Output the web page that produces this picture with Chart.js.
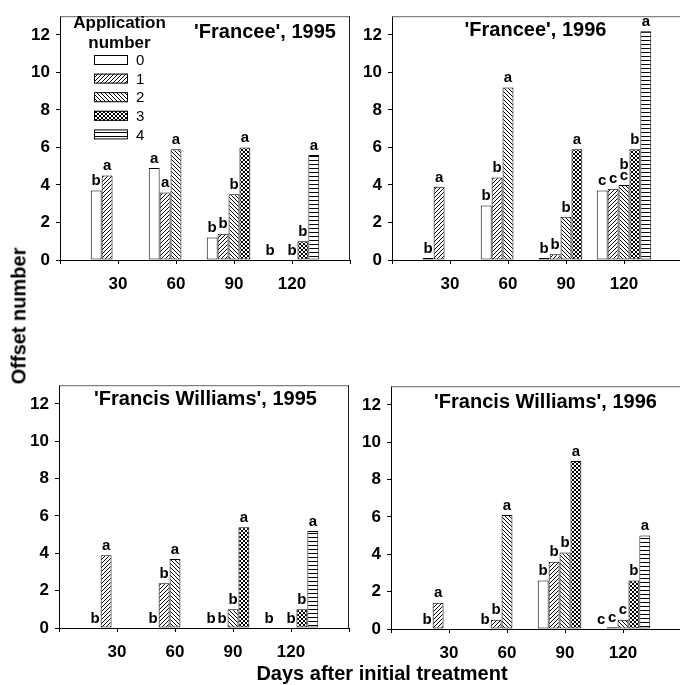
<!DOCTYPE html>
<html>
<head>
<meta charset="utf-8">
<script src="https://cdn.jsdelivr.net/npm/chart.js@4.4.1/dist/chart.umd.min.js"></script>
<style>
  body { margin: 0; background: #fff; width: 680px; height: 685px; overflow: hidden; position: relative; font-family: 'Liberation Sans', Arial, sans-serif; }
  canvas { position: absolute; }
  .axis-title { position: absolute; font-weight: bold; font-size: 20px; color: #000; white-space: nowrap; }
  #ytitle { left: 19px; top: 316px; transform: translate(-50%, -50%) rotate(-90deg); }
  #xtitle { left: 382px; top: 673px; transform: translate(-50%, -50%); }
</style>
</head>
<body>
<canvas id="c1" width="360" height="300" style="left:0px;top:0px"></canvas>
<canvas id="c2" width="360" height="300" style="left:332px;top:0px"></canvas>
<canvas id="c3" width="359" height="299" style="left:0px;top:369px"></canvas>
<canvas id="c4" width="360" height="299" style="left:331px;top:370px"></canvas>
<div class="axis-title" id="ytitle">Offset number</div>
<div class="axis-title" id="xtitle">Days after initial treatment</div>
<script>
// categorias (dias) y numero de aplicaciones
const days = ['', '30', '60', '90', '120', ''];
const appNumbers = ['0', '1', '2', '3', '4'];
const yTicks = [0, 2, 4, 6, 8, 10, 12];

// valores por serie (aplicacion 0..4) en 30, 60, 90, 120 dias
const francee1995 = [
  [3.7, 4.9, 1.2, 0],
  [4.5, 3.6, 1.4, 0],
  [0, 5.9, 3.5, 0],
  [0, 0, 6.0, 1.0],
  [0, 0, 0, 5.6],
];
const francee1995Letters = [
  ['b', 'a', 'b', 'b'],
  ['a', 'a', 'b', ''],
  ['', 'a', 'b', 'b'],
  ['', '', 'a', 'b'],
  ['', '', '', 'a'],
];

const francee1996 = [
  [0.1, 2.9, 0.1, 3.7],
  [3.9, 4.4, 0.3, 3.8],
  [0, 9.2, 2.3, 4.0],
  [0, 0, 5.9, 5.9],
  [0, 0, 0, 12.2],
];
const francee1996Letters = [
  ['b', 'b', 'b', 'c'],
  ['a', 'b', 'b', 'c'],
  ['', 'a', 'b', 'bc'],
  ['', '', 'a', 'b'],
  ['', '', '', 'a'],
];

const williams1995 = [
  [0, 0, 0, 0],
  [3.9, 2.4, 0, 0],
  [0, 3.7, 1.0, 0],
  [0, 0, 5.4, 1.0],
  [0, 0, 0, 5.2],
];
const williams1995Letters = [
  ['b', 'b', 'b', 'b'],
  ['a', 'b', 'b', ''],
  ['', 'a', 'b', 'b'],
  ['', '', 'a', 'b'],
  ['', '', '', 'a'],
];

const williams1996 = [
  [0, 0, 2.6, 0],
  [1.4, 0.5, 3.6, 0.1],
  [0, 6.1, 4.1, 0.5],
  [0, 0, 9.0, 2.6],
  [0, 0, 0, 5.0],
];
const williams1996Letters = [
  ['b', 'b', 'b', 'c'],
  ['a', 'b', 'b', 'c'],
  ['', 'a', 'b', 'c'],
  ['', '', 'a', 'b'],
  ['', '', '', 'a'],
];

const FONT = "'Liberation Sans', Arial, sans-serif";

// Patrones de relleno (blanco, /, \, cuadriculado, horizontal)
function makePattern(kind) {
  const s = 4;
  const c = document.createElement('canvas');
  c.width = s;
  c.height = s;
  const p = c.getContext('2d');
  p.fillStyle = '#fff';
  p.fillRect(0, 0, s, s);
  p.strokeStyle = '#000';
  p.lineWidth = 1;
  p.beginPath();
  if (kind === 1 || kind === 3) {
    p.moveTo(0, s); p.lineTo(s, 0);
    p.moveTo(-1, 1); p.lineTo(1, -1);
    p.moveTo(s - 1, s + 1); p.lineTo(s + 1, s - 1);
  }
  if (kind === 2 || kind === 3) {
    p.moveTo(0, 0); p.lineTo(s, s);
    p.moveTo(-1, s - 1); p.lineTo(1, s + 1);
    p.moveTo(s - 1, -1); p.lineTo(s + 1, 1);
  }
  if (kind === 4) {
    p.moveTo(0, 0.5); p.lineTo(s, 0.5);
  }
  p.stroke();
  if (kind === 0) return '#fff';
  return p.createPattern(c, 'repeat');
}
const fills = [0, 1, 2, 3, 4].map(makePattern);

// Letras sobre las barras
const lettersPlugin = {
  id: 'letters',
  afterDatasetsDraw(chart) {
    const letters = chart.options.plugins.letters.values;
    const ctx = chart.ctx;
    ctx.save();
    ctx.font = 'bold 15px ' + FONT;
    ctx.fillStyle = '#000';
    ctx.textAlign = 'center';
    ctx.textBaseline = 'bottom';
    chart.data.datasets.forEach((ds, i) => {
      const meta = chart.getDatasetMeta(i);
      meta.data.forEach((el, j) => {
        const txt = letters[i][j - 1];
        if (!txt) return;
        let y = el.y - 2;
        for (let k = txt.length - 1; k >= 0; k--) {
          ctx.fillText(txt[k], el.x, y);
          y -= 11;
        }
      });
    });
    ctx.restore();
  },
};

// Titulo del panel y bordes superior/derecho
const framePlugin = {
  id: 'frame',
  afterDraw(chart) {
    const o = chart.options.plugins.frame;
    const a = chart.chartArea;
    const ctx = chart.ctx;
    ctx.save();
    ctx.strokeStyle = '#666';
    ctx.lineWidth = 1;
    ctx.beginPath();
    ctx.moveTo(a.left, a.top + 0.5);
    ctx.lineTo(a.right, a.top + 0.5);
    ctx.stroke();
    ctx.strokeStyle = '#222';
    ctx.beginPath();
    ctx.moveTo(a.right - 0.5, a.top);
    ctx.lineTo(a.right - 0.5, a.bottom);
    ctx.stroke();
    ctx.font = 'bold 20px ' + FONT;
    ctx.fillStyle = '#000';
    ctx.textAlign = 'center';
    ctx.textBaseline = 'middle';
    ctx.fillText(o.title, o.tx, o.ty);
    ctx.restore();
  },
};

// Leyenda dentro del primer panel
const legendPlugin = {
  id: 'appLegend',
  afterDraw(chart) {
    const o = chart.options.plugins.appLegend;
    if (!o || !o.show) return;
    const ctx = chart.ctx;
    ctx.save();
    ctx.fillStyle = '#000';
    ctx.textAlign = 'center';
    ctx.textBaseline = 'middle';
    ctx.font = 'bold 17px ' + FONT;
    ctx.fillText('Application', 119.5, 23);
    ctx.fillText('number', 119.5, 43);
    ctx.font = '15px ' + FONT;
    ctx.textAlign = 'left';
    chart.data.datasets.forEach((ds, i) => {
      const y = 60 + i * 18.6;
      ctx.fillStyle = ds.backgroundColor;
      ctx.fillRect(94, y - 5, 34, 10);
      ctx.strokeStyle = '#000';
      ctx.strokeRect(94.5, y - 4.5, 33, 9);
      ctx.fillStyle = '#000';
      ctx.fillText(ds.label, 136, y + 1);
    });
    ctx.restore();
  },
};

function makeChart(id, values, letters, title, tx, ty, yAxisWidth, showLegend) {
  const ctx = document.getElementById(id).getContext('2d');
  return new Chart(ctx, {
    type: 'bar',
    data: {
      labels: days,
      datasets: appNumbers.map((lab, i) => ({
        label: lab,
        data: [null].concat(values[i], [null]),
        backgroundColor: fills[i],
        borderColor: '#000',
        borderWidth: 1,
        borderSkipped: false,
        categoryPercentage: 0.94,
        barPercentage: 1,
      })),
    },
    options: {
      responsive: false,
      animation: false,
      layout: { padding: { top: 10, right: 8, left: 0, bottom: 0 } },
      plugins: {
        legend: { display: false },
        tooltip: { enabled: false },
        letters: { values: letters },
        frame: { title: title, tx: tx, ty: ty },
        appLegend: { show: showLegend },
      },
      scales: {
        x: {
          offset: false,
          grid: { offset: false, drawOnChartArea: false, drawTicks: true, tickLength: 4, color: '#000' },
          border: { display: true, color: '#000', width: 1 },
          ticks: { color: '#000', font: { family: FONT, size: 17, weight: 'bold' }, padding: 10, maxRotation: 0, autoSkip: false },
          afterFit: (scale) => { scale.height = 40; },
        },
        y: {
          min: 0,
          max: 13,
          afterBuildTicks: (scale) => { scale.ticks = yTicks.map((v) => ({ value: v })); },
          grid: { drawOnChartArea: false, drawTicks: true, tickLength: 4, color: '#000' },
          border: { display: true, color: '#000', width: 1 },
          ticks: { color: '#000', font: { family: FONT, size: 17, weight: 'bold' }, padding: 6 },
          afterFit: (scale) => { scale.width = yAxisWidth; },
        },
      },
    },
    plugins: [lettersPlugin, framePlugin, legendPlugin],
  });
}

makeChart('c1', francee1995, francee1995Letters, "'Francee', 1995", 265, 32, 60, true);
makeChart('c2', francee1996, francee1996Letters, "'Francee', 1996", 203.5, 30, 60, false);
makeChart('c3', williams1995, williams1995Letters, "'Francis Williams', 1995", 205.5, 30, 59, false);
makeChart('c4', williams1996, williams1996Letters, "'Francis Williams', 1996", 214.5, 32, 60, false);
</script>
</body>
</html>
